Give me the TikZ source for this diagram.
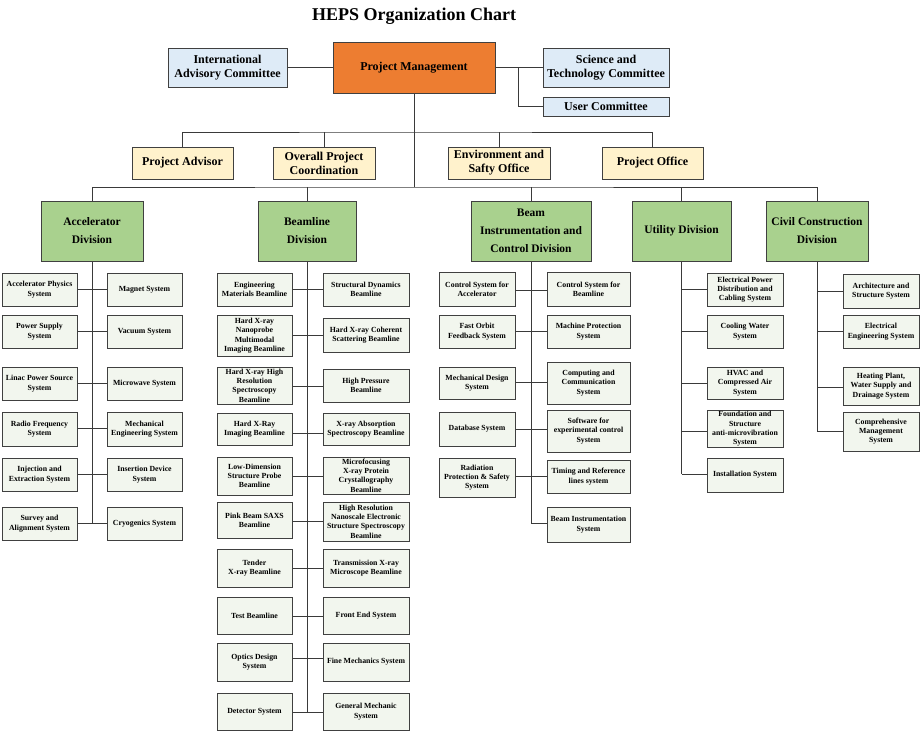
\documentclass[tikz,border=0pt]{standalone}
\usepackage{fontspec}
\setmainfont{Liberation Serif}
\definecolor{lineC}{HTML}{3A3A3A}
\definecolor{borderC}{HTML}{404040}
\definecolor{blueF}{HTML}{DEEBF7}
\definecolor{orangeF}{HTML}{ED7D31}
\definecolor{yellowF}{HTML}{FFF2CC}
\definecolor{greenF}{HTML}{A9D18E}
\definecolor{subF}{HTML}{F2F6EE}
\newcommand\bx[7]{\node[#1, minimum width={(#5-#3)*1pt}, minimum height={(#6-#4)*1pt}] (#2) at ({(#3+#5)/2},{(#4+#6)/2}) {#7};}
\begin{document}
\begin{tikzpicture}[x=1pt,y=-1pt,
  box/.style={draw=borderC, line width=1pt, align=center, inner sep=1pt},
  topbox/.style={box, font=\fontsize{12}{14}\selectfont\bfseries},
  blue/.style={topbox, fill=blueF},
  pmbox/.style={topbox, fill=orangeF},
  yel/.style={topbox, fill=yellowF},
  div/.style={box, fill=greenF, font=\fontsize{11.5}{18}\selectfont\bfseries},
  sub/.style={box, fill=subF, font=\fontsize{7.8}{9.3}\selectfont\bfseries},
  conn/.style={draw=lineC, line width=1pt}]
\useasboundingbox (0,0) rectangle (920,731);
\node[font=\fontsize{18}{21}\selectfont\bfseries] (title) at (414,16) {HEPS Organization Chart};
% top level
\bx{blue}{iac}{168}{48}{287}{87}{International\\Advisory Committee}
\bx{pmbox}{pm}{333}{42}{495}{93}{Project Management}
\bx{blue}{stc}{543}{48}{669}{87}{Science and\\Technology Committee}
\bx{blue}{uc}{543}{97}{669}{116}{User Committee}
\bx{yel}{pa}{132}{147}{233}{179}{Project Advisor}
\bx{yel}{opc}{273}{147}{375}{179}{Overall Project\\Coordination}
\bx{yel}{eso}{448}{147}{550}{179}{Environment and\\Safty Office}
\bx{yel}{po}{602}{147}{703}{179}{Project Office}
\coordinate (br) at (518,67.5);
\coordinate (bus1) at (414,132);
\coordinate (bus2) at (414,187);
\draw[conn] (iac.east) -- (iac.east -| pm.west);
\draw[conn] (pm.east |- stc.west) -- (stc.west);
\draw[conn] (br) |- (uc.west);
\draw[conn] (pm.south) -- (bus2);
\draw[conn] (pa.north) |- (bus1) -| (po.north);
\draw[conn] (opc.north) -- (opc.north |- bus1);
\draw[conn] (eso.north) -- (eso.north |- bus1);
% divisions
\bx{div}{acc}{41}{201}{143}{261}{Accelerator\\Division}
\bx{div}{bl}{258}{201}{356}{261}{Beamline\\Division}
\bx{div}{bic}{471}{201}{591}{261}{Beam\\Instrumentation and\\Control Division}
\bx{div}{ud}{632}{201}{731}{261}{Utility Division}
\bx{div}{cd}{766}{201}{868}{261}{Civil Construction\\Division}
\draw[conn] (acc.north) |- (bus2) -| (cd.north);
\draw[conn] (bl.north) -- (bl.north |- bus2);
\draw[conn] (bic.north) -- (bic.north |- bus2);
\draw[conn] (ud.north) -- (ud.north |- bus2);
% accelerator
\bx{sub}{a1l}{2}{273}{77}{306}{Accelerator Physics\\System}
\bx{sub}{a1r}{107}{273}{182}{306}{Magnet System}
\bx{sub}{a2l}{2}{315}{77}{348}{Power Supply\\System}
\bx{sub}{a2r}{107}{315}{182}{348}{Vacuum System}
\bx{sub}{a3l}{2}{367}{77}{400}{Linac Power Source\\System}
\bx{sub}{a3r}{107}{367}{182}{400}{Microwave System}
\bx{sub}{a4l}{2}{412}{77}{446}{Radio Frequency\\System}
\bx{sub}{a4r}{107}{412}{182}{446}{Mechanical\\Engineering System}
\bx{sub}{a5l}{2}{458}{77}{491}{Injection and\\Extraction System}
\bx{sub}{a5r}{107}{458}{182}{491}{Insertion Device\\System}
\bx{sub}{a6l}{2}{507}{77}{540}{Survey and\\Alignment System}
\bx{sub}{a6r}{107}{507}{182}{540}{Cryogenics System}
\draw[conn] (acc.south) -- (acc.south |- 0,523);
\foreach \r/\y in {1/289,2/331,3/383,4/428,5/474,6/523}
  \draw[conn] (a\r l.east |- 0,\y) -- (a\r r.west |- 0,\y);
% beamline
\bx{sub}{b1l}{217}{273}{292}{306}{Engineering\\Materials Beamline}
\bx{sub}{b1r}{323}{273}{409}{306}{Structural Dynamics\\Beamline}
\bx{sub}{b2l}{217}{315}{292}{356}{Hard X-ray\\Nanoprobe\\Multimodal\\Imaging Beamline}
\bx{sub}{b2r}{323}{318}{409}{352}{Hard X-ray Coherent\\Scattering Beamline}
\bx{sub}{b3l}{217}{367}{292}{404}{Hard X-ray High\\Resolution\\Spectroscopy\\Beamline}
\bx{sub}{b3r}{323}{369}{409}{402}{High Pressure\\Beamline}
\bx{sub}{b4l}{217}{413}{292}{445}{Hard X-Ray\\Imaging Beamline}
\bx{sub}{b4r}{323}{413}{409}{445}{X-ray Absorption\\Spectroscopy Beamline}
\bx{sub}{b5l}{217}{457}{292}{495}{Low-Dimension\\Structure Probe\\Beamline}
\bx{sub}{b5r}{323}{457}{409}{494}{Microfocusing\\X-ray Protein\\Crystallography\\Beamline}
\bx{sub}{b6l}{217}{502}{292}{538}{Pink Beam SAXS\\Beamline}
\bx{sub}{b6r}{323}{502}{409}{541}{High Resolution\\Nanoscale Electronic\\Structure Spectroscopy\\Beamline}
\bx{sub}{b7l}{217}{549}{292}{587}{Tender\\X-ray Beamline}
\bx{sub}{b7r}{323}{549}{409}{587}{Transmission X-ray\\Microscope Beamline}
\bx{sub}{b8l}{217}{597}{292}{634}{Test Beamline}
\bx{sub}{b8r}{323}{597}{409}{634}{Front End System}
\bx{sub}{b9l}{217}{643}{292}{681}{Optics Design\\System}
\bx{sub}{b9r}{323}{643}{409}{681}{Fine Mechanics System}
\bx{sub}{b10l}{217}{693}{292}{730}{Detector System}
\bx{sub}{b10r}{323}{693}{409}{730}{General Mechanic\\System}
\draw[conn] (bl.south) -- (bl.south |- 0,712);
\foreach \r/\y in {1/289,2/335,3/386,4/433,5/476,6/521,7/568,8/616,9/658,10/712}
  \draw[conn] (b\r l.east |- 0,\y) -- (b\r r.west |- 0,\y);
% beam instrumentation and control
\bx{sub}{c1l}{439}{272}{515}{306}{Control System for\\Accelerator}
\bx{sub}{c1r}{547}{272}{630}{306}{Control System for\\Beamline}
\bx{sub}{c2l}{439}{315}{515}{348}{Fast Orbit\\Feedback System}
\bx{sub}{c2r}{547}{315}{630}{348}{Machine Protection\\System}
\bx{sub}{c3l}{439}{367}{515}{399}{Mechanical Design\\System}
\bx{sub}{c3r}{547}{362}{630}{404}{Computing and\\Communication\\System}
\bx{sub}{c4l}{439}{412}{515}{446}{Database System}
\bx{sub}{c4r}{547}{410}{630}{452}{Software for\\experimental control\\System}
\bx{sub}{c5l}{439}{458}{515}{497}{Radiation\\Protection \& Safety\\System}
\bx{sub}{c5r}{547}{460}{630}{493}{Timing and Reference\\lines system}
\bx{sub}{c6r}{547}{507}{630}{542}{Beam Instrumentation\\System}
\draw[conn] (bic.south) |- (c6r.west |- 0,523);
\foreach \r/\y in {1/290,2/331,3/382,4/429,5/476}
  \draw[conn] (c\r l.east |- 0,\y) -- (c\r r.west |- 0,\y);
% utility
\bx{sub}{u1}{707}{273}{783}{306}{Electrical Power\\Distribution and\\Cabling System}
\bx{sub}{u2}{707}{315}{783}{348}{Cooling Water\\System}
\bx{sub}{u3}{707}{367}{783}{399}{HVAC and\\Compressed Air\\System}
\bx{sub}{u4}{707}{412}{783}{446}{Foundation and\\Structure\\anti-microvibration\\System}
\bx{sub}{u5}{707}{458}{783}{492}{Installation System}
\draw[conn] (ud.south) -- (ud.south |- 0,474);
\foreach \r/\y in {1/289,2/331,3/383,4/431,5/474}
  \draw[conn] (ud.south |- 0,\y) -- (u\r.west |- 0,\y);
% civil construction
\bx{sub}{v1}{843}{274}{919}{308}{Architecture and\\Structure System}
\bx{sub}{v2}{843}{315}{919}{348}{Electrical\\Engineering System}
\bx{sub}{v3}{843}{367}{919}{405}{Heating Plant,\\Water Supply and\\Drainage System}
\bx{sub}{v4}{843}{412}{919}{451}{Comprehensive\\Management\\System}
\draw[conn] (cd.south) -- (cd.south |- 0,431);
\foreach \r/\y in {1/291,2/331,3/387,4/431}
  \draw[conn] (cd.south |- 0,\y) -- (v\r.west |- 0,\y);
\end{tikzpicture}
\end{document}
